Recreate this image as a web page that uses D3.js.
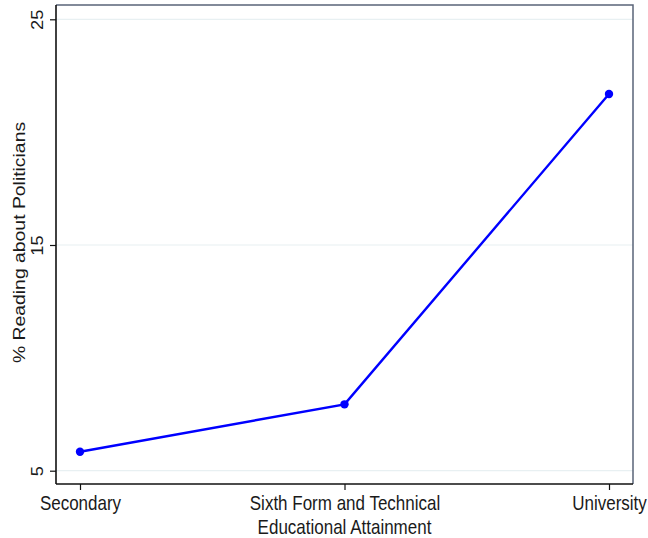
<!DOCTYPE html>
<html>
<head>
<meta charset="utf-8">
<script src="https://cdn.jsdelivr.net/npm/d3@7"></script>
<style>
  html, body { margin: 0; padding: 0; background: #fff; }
  svg { display: block; }
  text { font-family: "Liberation Sans", Arial, sans-serif; fill: #1a1a1a; }
</style>
</head>
<body>
<svg id="chart" width="648" height="538"></svg>
<script>
// Education levels and share of respondents reading about politicians (%)
const categories = ["Secondary", "Sixth Form and Technical", "University"];
const values = [5.84, 7.94, 21.69];
const yTicks = [5, 15, 25];
const yTitle = "% Reading about Politicians";
const xTitle = "Educational Attainment";

const frame = { left: 56, right: 633, top: 5, bottom: 484 };
const stretch = 1.14;   // text is drawn slightly taller than wide
const fontPx = 17;

const svg = d3.select("#chart");

const x = d3.scalePoint()
  .domain(categories)
  .range([80, 609]);

const y = d3.scaleLinear()
  .domain([5, 25])
  .range([470.7, 19.3]);

// Horizontal grid lines
svg.append("g")
  .selectAll("line")
  .data(yTicks)
  .join("line")
  .attr("x1", frame.left)
  .attr("x2", frame.right)
  .attr("y1", d => y(d))
  .attr("y2", d => y(d))
  .attr("stroke", "#e8f0f2")
  .attr("stroke-width", 1.2);

// Top and right plot border
svg.append("path")
  .attr("d", `M${frame.left},${frame.top}H${frame.right}V${frame.bottom}`)
  .attr("fill", "none")
  .attr("stroke", "#5a6478")
  .attr("stroke-width", 1.5);

// Left axis
const yAxis = d3.axisLeft(y).tickValues(yTicks).tickSize(6).tickFormat(d3.format("d"));
const gy = svg.append("g")
  .attr("transform", `translate(${frame.left},0)`)
  .call(yAxis);
gy.select(".domain")
  .attr("d", `M0,${frame.top}V${frame.bottom}`)
  .attr("stroke", "#111")
  .attr("stroke-width", 1.6);
gy.selectAll(".tick line").attr("stroke", "#111").attr("stroke-width", 1.2);
gy.selectAll(".tick text")
  .attr("x", 0).attr("dy", null)
  .attr("transform", `translate(-13,0) rotate(-90) scale(${stretch},1)`)
  .attr("text-anchor", "middle")
  .style("font-family", "'Liberation Sans', Arial, sans-serif")
  .style("font-size", "16px")
  .attr("fill", "#1a1a1a");

// Bottom axis
const xAxis = d3.axisBottom(x).tickSize(6);
const gx = svg.append("g")
  .attr("transform", `translate(0,${frame.bottom})`)
  .call(xAxis);
gx.select(".domain")
  .attr("d", `M${frame.left},0H${frame.right}`)
  .attr("stroke", "#111")
  .attr("stroke-width", 1.6);
gx.selectAll(".tick line").attr("stroke", "#111").attr("stroke-width", 1.2);
gx.selectAll(".tick text")
  .attr("y", 0).attr("dy", null)
  .attr("transform", `translate(0,26) scale(1,${stretch})`)
  .style("font-family", "'Liberation Sans', Arial, sans-serif")
  .style("font-size", fontPx + "px")
  .attr("fill", "#1a1a1a");

// Axis titles
svg.append("text")
  .attr("transform", `translate(${(frame.left + frame.right) / 2},534) scale(1,${stretch})`)
  .attr("text-anchor", "middle")
  .style("font-size", fontPx + "px")
  .text(xTitle);

svg.append("text")
  .attr("transform", `translate(25,${(frame.top + frame.bottom) / 2 - 2}) rotate(-90) scale(${stretch},1)`)
  .attr("text-anchor", "middle")
  .style("font-size", fontPx + "px")
  .text(yTitle);

// Series line and markers
const pts = categories.map((c, i) => ({ c, v: values[i] }));

svg.append("path")
  .datum(pts)
  .attr("fill", "none")
  .attr("stroke", "#0000ff")
  .attr("stroke-width", 2.4)
  .attr("d", d3.line().x(d => x(d.c)).y(d => y(d.v)));

svg.append("g")
  .selectAll("circle")
  .data(pts)
  .join("circle")
  .attr("cx", d => x(d.c))
  .attr("cy", d => y(d.v))
  .attr("r", 4.2)
  .attr("fill", "#0000ff");
</script>
</body>
</html>
